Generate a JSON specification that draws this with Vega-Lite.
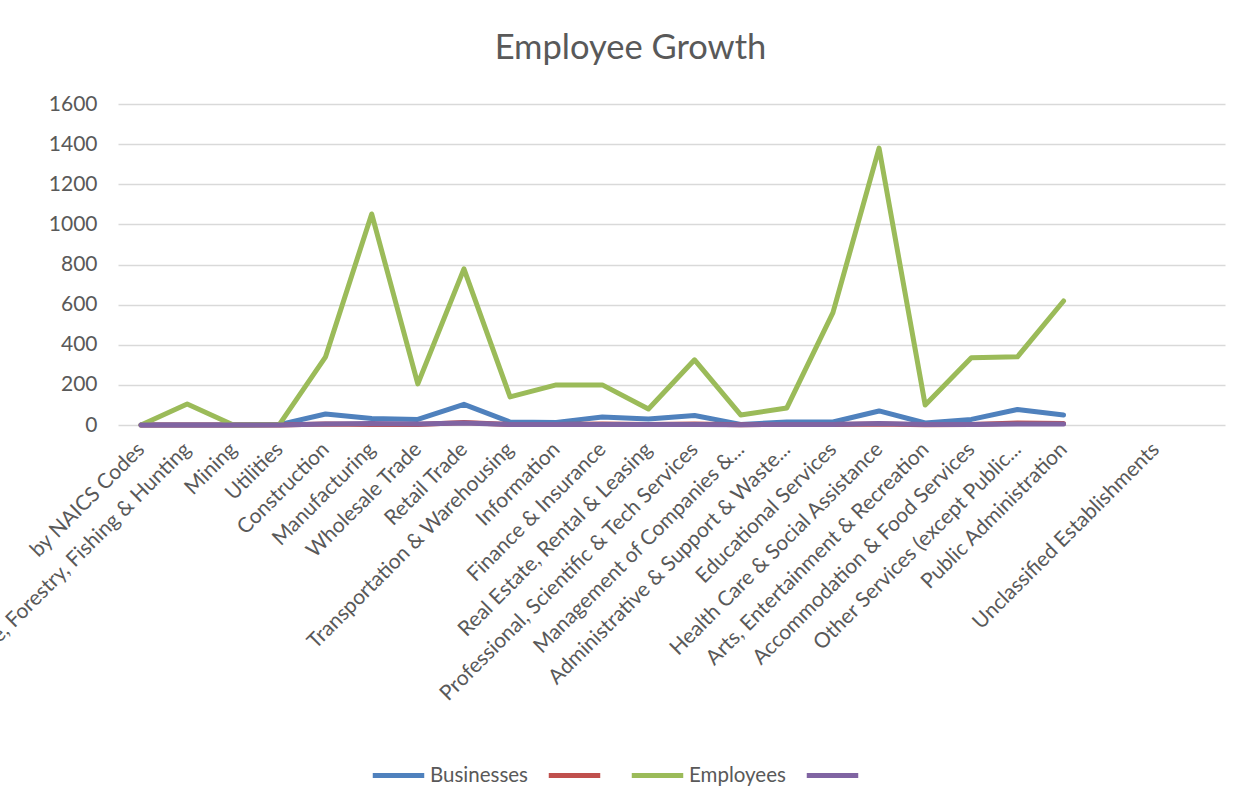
{
  "$schema": "https://vega.github.io/schema/vega-lite/v6.json",
  "autosize": {"type": "none"},
  "width": 1107,
  "height": 321,
  "padding": {"left": 118, "top": 104, "right": 28, "bottom": 385},
  "background": "white",
  "title": {
    "text": "Employee Growth",
    "font": "Lato",
    "fontSize": 34.5,
    "fontWeight": "normal",
    "color": "#595959",
    "anchor": "middle",
    "dx": -41,
    "offset": 27
  },
  "config": {
    "view": {"stroke": null},
    "font": "Lato"
  },
  "data": {
    "values": [
      {"cat": "by NAICS Codes", "series": "Businesses", "value": 0},
      {"cat": "Agriculture, Forestry, Fishing & Hunting", "series": "Businesses", "value": 0},
      {"cat": "Mining", "series": "Businesses", "value": 0},
      {"cat": "Utilities", "series": "Businesses", "value": 2},
      {"cat": "Construction", "series": "Businesses", "value": 55},
      {"cat": "Manufacturing", "series": "Businesses", "value": 32},
      {"cat": "Wholesale Trade", "series": "Businesses", "value": 28},
      {"cat": "Retail Trade", "series": "Businesses", "value": 103},
      {"cat": "Transportation & Warehousing", "series": "Businesses", "value": 15},
      {"cat": "Information", "series": "Businesses", "value": 13},
      {"cat": "Finance & Insurance", "series": "Businesses", "value": 40},
      {"cat": "Real Estate, Rental & Leasing", "series": "Businesses", "value": 30},
      {"cat": "Professional, Scientific & Tech Services", "series": "Businesses", "value": 47},
      {"cat": "Management of Companies &...", "series": "Businesses", "value": 3},
      {"cat": "Administrative & Support & Waste...", "series": "Businesses", "value": 15},
      {"cat": "Educational Services", "series": "Businesses", "value": 15},
      {"cat": "Health Care & Social Assistance", "series": "Businesses", "value": 70},
      {"cat": "Arts, Entertainment & Recreation", "series": "Businesses", "value": 10},
      {"cat": "Accommodation & Food Services", "series": "Businesses", "value": 28},
      {"cat": "Other Services (except Public...", "series": "Businesses", "value": 77},
      {"cat": "Public Administration", "series": "Businesses", "value": 50},

      {"cat": "by NAICS Codes", "series": "Series2", "value": 0},
      {"cat": "Agriculture, Forestry, Fishing & Hunting", "series": "Series2", "value": 0},
      {"cat": "Mining", "series": "Series2", "value": 0},
      {"cat": "Utilities", "series": "Series2", "value": 0},
      {"cat": "Construction", "series": "Series2", "value": 5},
      {"cat": "Manufacturing", "series": "Series2", "value": 3},
      {"cat": "Wholesale Trade", "series": "Series2", "value": 3},
      {"cat": "Retail Trade", "series": "Series2", "value": 12},
      {"cat": "Transportation & Warehousing", "series": "Series2", "value": 2},
      {"cat": "Information", "series": "Series2", "value": 2},
      {"cat": "Finance & Insurance", "series": "Series2", "value": 5},
      {"cat": "Real Estate, Rental & Leasing", "series": "Series2", "value": 3},
      {"cat": "Professional, Scientific & Tech Services", "series": "Series2", "value": 5},
      {"cat": "Management of Companies &...", "series": "Series2", "value": 1},
      {"cat": "Administrative & Support & Waste...", "series": "Series2", "value": 3},
      {"cat": "Educational Services", "series": "Series2", "value": 2},
      {"cat": "Health Care & Social Assistance", "series": "Series2", "value": 5},
      {"cat": "Arts, Entertainment & Recreation", "series": "Series2", "value": 1},
      {"cat": "Accommodation & Food Services", "series": "Series2", "value": 3},
      {"cat": "Other Services (except Public...", "series": "Series2", "value": 10},
      {"cat": "Public Administration", "series": "Series2", "value": 8},

      {"cat": "by NAICS Codes", "series": "Employees", "value": 0},
      {"cat": "Agriculture, Forestry, Fishing & Hunting", "series": "Employees", "value": 105},
      {"cat": "Mining", "series": "Employees", "value": 0},
      {"cat": "Utilities", "series": "Employees", "value": 3},
      {"cat": "Construction", "series": "Employees", "value": 340},
      {"cat": "Manufacturing", "series": "Employees", "value": 1052},
      {"cat": "Wholesale Trade", "series": "Employees", "value": 205},
      {"cat": "Retail Trade", "series": "Employees", "value": 778},
      {"cat": "Transportation & Warehousing", "series": "Employees", "value": 140},
      {"cat": "Information", "series": "Employees", "value": 200},
      {"cat": "Finance & Insurance", "series": "Employees", "value": 200},
      {"cat": "Real Estate, Rental & Leasing", "series": "Employees", "value": 80},
      {"cat": "Professional, Scientific & Tech Services", "series": "Employees", "value": 325},
      {"cat": "Management of Companies &...", "series": "Employees", "value": 50},
      {"cat": "Administrative & Support & Waste...", "series": "Employees", "value": 85},
      {"cat": "Educational Services", "series": "Employees", "value": 560},
      {"cat": "Health Care & Social Assistance", "series": "Employees", "value": 1380},
      {"cat": "Arts, Entertainment & Recreation", "series": "Employees", "value": 100},
      {"cat": "Accommodation & Food Services", "series": "Employees", "value": 335},
      {"cat": "Other Services (except Public...", "series": "Employees", "value": 340},
      {"cat": "Public Administration", "series": "Employees", "value": 618},

      {"cat": "by NAICS Codes", "series": "Series4", "value": 0},
      {"cat": "Agriculture, Forestry, Fishing & Hunting", "series": "Series4", "value": 0},
      {"cat": "Mining", "series": "Series4", "value": 0},
      {"cat": "Utilities", "series": "Series4", "value": 0},
      {"cat": "Construction", "series": "Series4", "value": 5},
      {"cat": "Manufacturing", "series": "Series4", "value": 8},
      {"cat": "Wholesale Trade", "series": "Series4", "value": 5},
      {"cat": "Retail Trade", "series": "Series4", "value": 10},
      {"cat": "Transportation & Warehousing", "series": "Series4", "value": 3},
      {"cat": "Information", "series": "Series4", "value": 3},
      {"cat": "Finance & Insurance", "series": "Series4", "value": 3},
      {"cat": "Real Estate, Rental & Leasing", "series": "Series4", "value": 3},
      {"cat": "Professional, Scientific & Tech Services", "series": "Series4", "value": 3},
      {"cat": "Management of Companies &...", "series": "Series4", "value": 1},
      {"cat": "Administrative & Support & Waste...", "series": "Series4", "value": 3},
      {"cat": "Educational Services", "series": "Series4", "value": 3},
      {"cat": "Health Care & Social Assistance", "series": "Series4", "value": 8},
      {"cat": "Arts, Entertainment & Recreation", "series": "Series4", "value": 2},
      {"cat": "Accommodation & Food Services", "series": "Series4", "value": 3},
      {"cat": "Other Services (except Public...", "series": "Series4", "value": 5},
      {"cat": "Public Administration", "series": "Series4", "value": 5}
    ]
  },
  "mark": {"type": "line", "strokeWidth": 5, "strokeCap": "round", "strokeJoin": "round"},
  "encoding": {
    "x": {
      "field": "cat",
      "type": "nominal",
      "sort": null,
      "scale": {
        "type": "point",
        "padding": 0.5,
        "domain": [
          "by NAICS Codes",
          "Agriculture, Forestry, Fishing & Hunting",
          "Mining",
          "Utilities",
          "Construction",
          "Manufacturing",
          "Wholesale Trade",
          "Retail Trade",
          "Transportation & Warehousing",
          "Information",
          "Finance & Insurance",
          "Real Estate, Rental & Leasing",
          "Professional, Scientific & Tech Services",
          "Management of Companies &...",
          "Administrative & Support & Waste...",
          "Educational Services",
          "Health Care & Social Assistance",
          "Arts, Entertainment & Recreation",
          "Accommodation & Food Services",
          "Other Services (except Public...",
          "Public Administration",
          "blank1",
          "Unclassified Establishments",
          "blank2"
        ]
      },
      "axis": {
        "title": null,
        "domain": false,
        "ticks": false,
        "grid": false,
        "labelAngle": -45,
        "labelAlign": "right",
        "labelBaseline": "middle",
        "labelPadding": 21,
        "labelFont": "Lato",
        "labelFontSize": 21,
        "labelColor": "#595959",
        "labelOverlap": false,
        "labelLimit": 0,
        "labelBound": false,
        "labelFlush": false,
        "labelExpr": "indexof(datum.value, 'blank') == 0 ? '' : datum.value"
      }
    },
    "y": {
      "field": "value",
      "type": "quantitative",
      "scale": {"domain": [0, 1600], "nice": false, "zero": true},
      "axis": {
        "title": null,
        "domain": false,
        "ticks": false,
        "values": [0, 200, 400, 600, 800, 1000, 1200, 1400, 1600],
        "format": "d",
        "grid": true,
        "gridColor": "#d9d9d9",
        "gridWidth": 1.5,
        "labelPadding": 21,
        "labelFont": "Lato",
        "labelFontSize": 21,
        "labelColor": "#595959"
      }
    },
    "color": {
      "field": "series",
      "type": "nominal",
      "scale": {
        "domain": ["Businesses", "Series2", "Employees", "Series4"],
        "range": ["#4F81BD", "#C0504D", "#9BBB59", "#8064A2"]
      },
      "legend": {
        "title": null,
        "orient": "none",
        "direction": "horizontal",
        "legendX": 252,
        "legendY": 643,
        "symbolType": "stroke",
        "symbolSize": 2650,
        "symbolStrokeWidth": 5,
        "labelFont": "Lato",
        "labelFontSize": 20.5,
        "labelColor": "#595959",
        "labelOffset": 3,
        "columnPadding": 10,
        "labelExpr": "indexof(datum.label, 'Series') == 0 ? '' : datum.label"
      }
    }
  }
}
